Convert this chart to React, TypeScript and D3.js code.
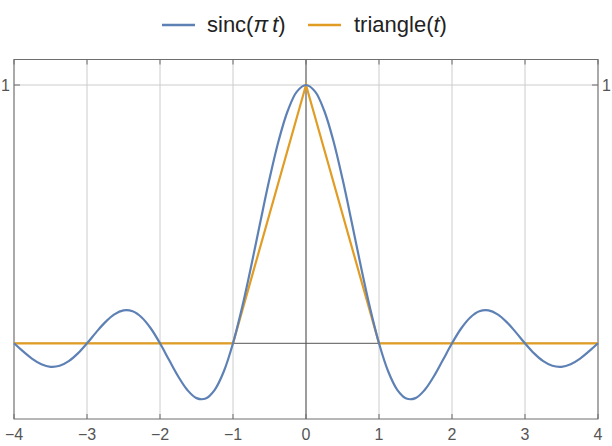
import React from "react";
import * as d3 from "d3";

const tValues = [
  0, 0.125, 0.25, 0.375, 0.5, 0.625, 0.75, 0.875, 1, 1.125, 1.25, 1.375, 1.5, 1.625, 1.75, 1.875,
  2, 2.125, 2.25, 2.375, 2.5, 2.625, 2.75, 2.875, 3, 3.125, 3.25, 3.375, 3.5, 3.625, 3.75, 3.875, 4,
];
const sincValues = [
  1, 0.9745, 0.90032, 0.78421, 0.63662, 0.47053, 0.30011, 0.13921, 0, -0.10828, -0.18006, -0.21388,
  -0.21221, -0.18097, -0.12862, -0.06497, 0, 0.05732, 0.10004, 0.12382, 0.12732, 0.11203, 0.08185,
  0.04237, 0, -0.03898, -0.06926, -0.08713, -0.09095, -0.08113, -0.06002, -0.03144, 0,
];
const triangleT = [-4, -1, 0, 1, 4];
const triangleValues = [0, 0, 1, 0, 0];
const xTicks = [-4, -3, -2, -1, 0, 1, 2, 3, 4];
const yTicks = [1];

const W = 612;
const H = 446;
const left = 14;
const right = 598;
const top = 59.5;
const bottom = 419;

export default function App() {
  const x = d3.scaleLinear().domain([-4, 4]).range([left, right]);
  const y = d3.scaleLinear().domain([0, 1]).range([343.3, 85]);

  const sincPts: [number, number][] = [];
  for (let i = tValues.length - 1; i > 0; i--) sincPts.push([-tValues[i], sincValues[i]]);
  for (let i = 0; i < tValues.length; i++) sincPts.push([tValues[i], sincValues[i]]);

  const line = d3
    .line<[number, number]>()
    .x((d) => x(d[0]))
    .y((d) => y(d[1]))
    .curve(d3.curveCatmullRom);
  const straight = d3
    .line<[number, number]>()
    .x((d) => x(d[0]))
    .y((d) => y(d[1]));
  const triPts: [number, number][] = triangleT.map((t, i) => [t, triangleValues[i]]);

  const font = "'Liberation Sans', Arial, sans-serif";
  const gray = "#555";

  return (
    <svg width={W} height={H} style={{ position: "absolute", left: 0, top: 0 }} fontFamily={font}>
      <rect width={W} height={H} fill="white" />
      {/* grid */}
      {xTicks.map((t) => (
        <line key={"g" + t} x1={x(t)} x2={x(t)} y1={top} y2={bottom} stroke="#cccccc" strokeWidth={1} />
      ))}
      {yTicks.map((t) => (
        <line key={"gy" + t} x1={left} x2={right} y1={y(t)} y2={y(t)} stroke="#cccccc" strokeWidth={1} />
      ))}
      {/* axes */}
      <line x1={left} x2={right} y1={y(0)} y2={y(0)} stroke="#555" strokeWidth={1} />
      <line x1={x(0)} x2={x(0)} y1={top} y2={bottom} stroke="#555" strokeWidth={1} />
      {/* frame */}
      <rect x={left} y={top} width={right - left} height={bottom - top} fill="none" stroke="#6e6e6e" strokeWidth={1} />
      {/* ticks */}
      {xTicks.map((t) => (
        <g key={"t" + t}>
          <line x1={x(t)} x2={x(t)} y1={bottom} y2={bottom - 5} stroke="#6e6e6e" />
          <line x1={x(t)} x2={x(t)} y1={top} y2={top + 5} stroke="#6e6e6e" />
          <text x={x(t)} y={440} textAnchor="middle" fontSize={16} fill={gray}>
            {t < 0 ? "\u2212" + Math.abs(t) : String(t)}
          </text>
        </g>
      ))}
      {yTicks.map((t) => (
        <g key={"yt" + t}>
          <line x1={left} x2={left + 6} y1={y(t)} y2={y(t)} stroke="#6e6e6e" />
          <line x1={right} x2={right - 6} y1={y(t)} y2={y(t)} stroke="#6e6e6e" />
          <text x={left - 4} y={y(t) + 6} textAnchor="end" fontSize={16} fill={gray}>{t}</text>
          <text x={right + 4} y={y(t) + 6} textAnchor="start" fontSize={16} fill={gray}>{t}</text>
        </g>
      ))}
      {/* series */}
      <path d={straight(triPts) || ""} fill="none" stroke="#E19C24" strokeWidth={2.2} />
      <path d={line(sincPts) || ""} fill="none" stroke="#5E81B5" strokeWidth={2.2} />
      {/* legend */}
      <line x1={162} x2={195} y1={25} y2={25} stroke="#5E81B5" strokeWidth={2.5} />
      <text x={207} y={32} fontSize={22} fill="#222">
        sinc(<tspan fontStyle="italic">π</tspan>
        <tspan dx={4} fontStyle="italic">t</tspan>)
      </text>
      <line x1={308} x2={341} y1={25} y2={25} stroke="#E19C24" strokeWidth={2.5} />
      <text x={354} y={32} fontSize={22} fill="#222">
        triangle(<tspan fontStyle="italic">t</tspan>)
      </text>
    </svg>
  );
}
